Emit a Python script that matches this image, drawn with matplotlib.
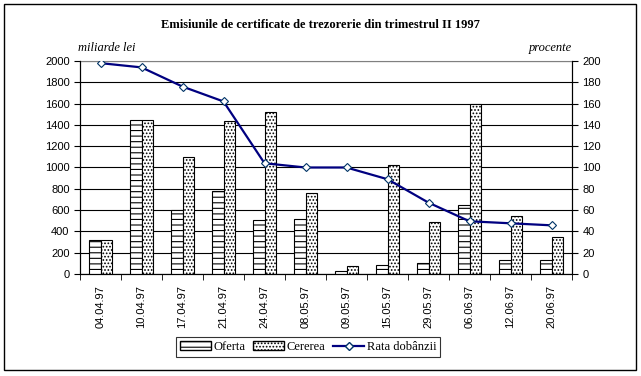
import matplotlib
matplotlib.use("Agg")
import matplotlib.pyplot as plt
from matplotlib.patches import Rectangle
from matplotlib.lines import Line2D
import numpy as np

# date emisiuni
date = ["04.04.97", "10.04.97", "17.04.97", "21.04.97", "24.04.97", "08.05.97",
        "09.05.97", "15.05.97", "29.05.97", "06.06.97", "12.06.97", "20.06.97"]
oferta = [320, 1450, 600, 780, 510, 520, 30, 80, 100, 650, 130, 130]
cererea = [320, 1450, 1100, 1440, 1520, 760, 75, 1020, 490, 1600, 545, 350]
rata = [198, 194, 176, 162, 104, 100, 100, 89, 67, 49.5, 47.6, 45.7]

plt.rcParams['hatch.linewidth'] = 0.8
serif = ['Liberation Serif', 'DejaVu Serif']
sans = ['Liberation Sans', 'DejaVu Sans']

fig = plt.figure(figsize=(6.41, 3.76), dpi=100)
fig.patches.append(Rectangle((4 / 641, 6 / 376), 632 / 641, 366 / 376,
                             transform=fig.transFigure, fill=False,
                             edgecolor='black', linewidth=1))

ax = fig.add_axes([80 / 641, 1 - 274 / 376, 492 / 641, 213 / 376])
x = np.arange(len(date))
w = 0.285
ax.bar(x - w / 2, oferta, w, color='white', edgecolor='black', hatch='---',
       linewidth=0.8, zorder=3)
ax.bar(x + w / 2, cererea, w, color='white', edgecolor='black', hatch='.....',
       linewidth=0.8, zorder=3)

ax.set_xlim(-0.5, len(date) - 0.5)
ax.set_ylim(0, 2000)
ax.set_yticks(range(0, 2001, 200))
ax.yaxis.grid(True, color='black', linewidth=0.8, zorder=0)
ax.set_axisbelow(True)
ax.set_xticks(x)
ax.set_xticklabels(date, rotation=90, fontfamily=sans, fontsize=8)
ax.set_xticks(np.arange(-0.5, len(date), 1), minor=True)
ax.tick_params(axis='x', which='major', length=0, pad=8)
ax.tick_params(axis='x', which='minor', length=4, direction='out')
ax.tick_params(axis='y', length=4, direction='out', labelsize=8)
for t in ax.get_yticklabels():
    t.set_fontfamily(sans)
ax.spines['top'].set_color('gray')
for s in ['left', 'bottom', 'right']:
    ax.spines[s].set_linewidth(0.8)

ax2 = ax.twinx()
ax2.plot(x, rata, color='#000080', linewidth=1.6, marker='D', markersize=4,
         markerfacecolor='white', markeredgecolor='#003366', markeredgewidth=0.8,
         zorder=5)
ax2.set_ylim(0, 200)
ax2.set_yticks(range(0, 201, 20))
ax2.tick_params(axis='y', length=4, direction='out', labelsize=8)
for t in ax2.get_yticklabels():
    t.set_fontfamily(sans)
ax2.spines['top'].set_visible(False)

fig.text(0.5, 1 - 25 / 376, "Emisiunile de certificate de trezorerie din trimestrul II 1997",
         ha='center', va='center', fontfamily=serif, fontweight='bold', fontsize=9)
fig.text(78 / 641, 1 - 48 / 376, "miliarde lei", ha='left', va='center',
         fontfamily=serif, fontstyle='italic', fontsize=9)
fig.text(572 / 641, 1 - 48 / 376, "procente", ha='right', va='center',
         fontfamily=serif, fontstyle='italic', fontsize=9)

handles = [Rectangle((0, 0), 1, 1, facecolor='white', edgecolor='black', hatch='---'),
           Rectangle((0, 0), 1, 1, facecolor='white', edgecolor='black', hatch='.....'),
           Line2D([], [], color='#000080', linewidth=1.6, marker='D', markersize=4,
                  markerfacecolor='white', markeredgecolor='#003366')]
leg = fig.legend(handles, ["Oferta", "Cererea", "Rata dobânzii"], ncol=3,
                 loc='center', bbox_to_anchor=(308 / 641, 1 - 347 / 376),
                 prop={'family': serif, 'size': 9}, frameon=True, fancybox=False,
                 edgecolor='black', handlelength=2.5, handletextpad=0.2,
                 columnspacing=0.6, borderpad=0.3)
leg.get_frame().set_linewidth(0.8)

fig.savefig("out.png", dpi=100)
